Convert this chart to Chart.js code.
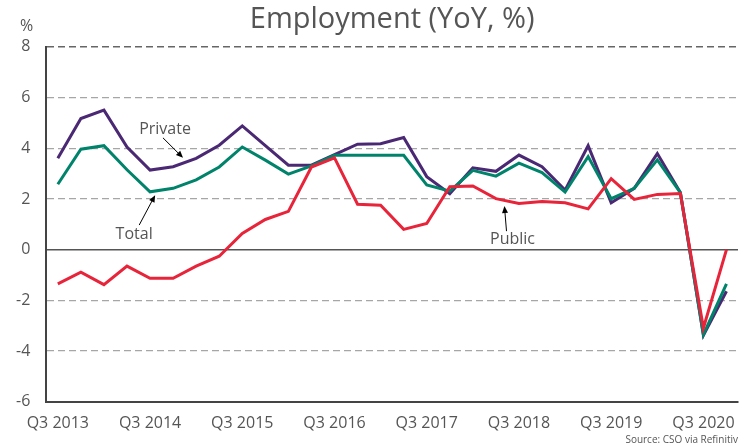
<!DOCTYPE html>
<html>
<head>
<meta charset="utf-8">
<script src="https://cdn.jsdelivr.net/npm/chart.js@4.4.1/dist/chart.umd.min.js"></script>
<style>
  html, body { margin: 0; padding: 0; background: #fff; }
  #wrap { width: 744px; height: 446px; }
</style>
</head>
<body>
<div id="wrap"><canvas id="chartEmployment"></canvas></div>
<script>
// quarters Q3 2013 .. Q4 2020
const quarters = [
    "Q3 2013", "Q4 2013", "Q1 2014", "Q2 2014", "Q3 2014", "Q4 2014", "Q1 2015", "Q2 2015",
    "Q3 2015", "Q4 2015", "Q1 2016", "Q2 2016", "Q3 2016", "Q4 2016", "Q1 2017", "Q2 2017",
    "Q3 2017", "Q4 2017", "Q1 2018", "Q2 2018", "Q3 2018", "Q4 2018", "Q1 2019", "Q2 2019",
    "Q3 2019", "Q4 2019", "Q1 2020", "Q2 2020", "Q3 2020", "Q4 2020"
];

const privateYoY = [
    3.60, 5.17, 5.50, 4.05, 3.14, 3.27, 3.60, 4.12, 4.88, 4.10,
    3.33, 3.33, 3.75, 4.16, 4.18, 4.42, 2.88, 2.21, 3.23, 3.09,
    3.73, 3.27, 2.35, 4.10, 1.85, 2.42, 3.79, 2.25, -3.38, -1.64
];

const totalYoY = [
    2.58, 3.96, 4.10, 3.15, 2.28, 2.42, 2.75, 3.26, 4.05, 3.53,
    2.98, 3.30, 3.72, 3.72, 3.72, 3.72, 2.55, 2.31, 3.13, 2.90,
    3.41, 3.04, 2.27, 3.67, 2.01, 2.42, 3.54, 2.25, -3.35, -1.35
];

const publicYoY = [
    -1.35, -0.89, -1.38, -0.65, -1.13, -1.13, -0.65, -0.26, 0.64, 1.19,
    1.51, 3.26, 3.62, 1.79, 1.75, 0.80, 1.03, 2.48, 2.51, 2.01,
    1.82, 1.90, 1.85, 1.61, 2.80, 1.98, 2.18, 2.21, -3.09, 0.00
];

const yTicks = [8, 6, 4, 2, 0, -2, -4, -6];

// callout labels, placed in data units (category index, value)
const callouts = [
    { text: "Private", at: [4.65, 4.76], from: [4.56, 4.41], to: [5.43, 3.62] },
    { text: "Total", at: [3.31, 0.61], from: [3.53, 0.97], to: [4.22, 2.15] },
    { text: "Public", at: [19.72, 0.41], from: [19.46, 0.73], to: [19.37, 1.72] }
];

const FONT = "'Open Sans', sans-serif";
const TEXT = "#555555";

const calloutPlugin = {
    id: "callouts",
    afterDatasetsDraw(chart) {
        const ctx = chart.ctx;
        const xs = chart.scales.x;
        const ys = chart.scales.y;
        ctx.save();
        ctx.font = "16px " + FONT;
        ctx.fillStyle = TEXT;
        ctx.textAlign = "center";
        ctx.textBaseline = "middle";
        callouts.forEach(function(c) {
            ctx.fillText(c.text, xs.getPixelForValue(c.at[0]), ys.getPixelForValue(c.at[1]));
            const x1 = xs.getPixelForValue(c.from[0]), y1 = ys.getPixelForValue(c.from[1]);
            const x2 = xs.getPixelForValue(c.to[0]), y2 = ys.getPixelForValue(c.to[1]);
            const ang = Math.atan2(y2 - y1, x2 - x1);
            ctx.strokeStyle = "#000";
            ctx.fillStyle = "#000";
            ctx.lineWidth = 1;
            ctx.beginPath();
            ctx.moveTo(x1, y1);
            ctx.lineTo(x2 - 4 * Math.cos(ang), y2 - 4 * Math.sin(ang));
            ctx.stroke();
            ctx.beginPath();
            ctx.moveTo(x2, y2);
            ctx.lineTo(x2 - 7 * Math.cos(ang) + 3 * Math.sin(ang), y2 - 7 * Math.sin(ang) - 3 * Math.cos(ang));
            ctx.lineTo(x2 - 7 * Math.cos(ang) - 3 * Math.sin(ang), y2 - 7 * Math.sin(ang) + 3 * Math.cos(ang));
            ctx.closePath();
            ctx.fill();
            ctx.fillStyle = TEXT;
        });
        // unit label above the y axis
        ctx.font = "16px " + FONT;
        ctx.textAlign = "right";
        ctx.fillText("%", ys.right - 13, ys.getPixelForValue(8.8));
        ctx.restore();
    }
};

document.addEventListener("DOMContentLoaded", function() {
    function makeLine(label, values, color) {
        return {
            label: label,
            data: values,
            borderColor: color,
            backgroundColor: color,
            borderWidth: 3,
            pointRadius: 0,
            tension: 0,
            fill: false
        };
    }

    new Chart(document.getElementById("chartEmployment"), {
        type: "line",
        data: {
            labels: quarters,
            datasets: [
                makeLine("Public", publicYoY, "#e8243a"),
                makeLine("Total", totalYoY, "#00836b"),
                makeLine("Private", privateYoY, "#4b2873")
            ]
        },
        options: {
            responsive: true,
            maintainAspectRatio: false,
            animation: false,
            layout: { padding: { left: 0, right: 6, top: 2, bottom: 0 } },
            plugins: {
                legend: { display: false },
                tooltip: { enabled: false },
                title: {
                    display: true,
                    text: "Employment (YoY, %)",
                    fullSize: false,
                    color: TEXT,
                    font: { family: FONT, size: 29, weight: "normal" },
                    padding: { top: 0, bottom: 10 }
                },
                subtitle: {
                    display: true,
                    position: "bottom",
                    align: "end",
                    text: "Source: CSO via Refinitiv",
                    color: TEXT,
                    font: { family: FONT, size: 10 },
                    padding: { top: -11, bottom: 0 }
                }
            },
            scales: {
                x: {
                    offset: true,
                    grid: {
                        offset: true,
                        drawTicks: false,
                        color: function(c) { return c.index === quarters.length ? "#555" : "transparent"; },
                        lineWidth: 1.5
                    },
                    border: { display: true, color: "#444", width: 2 },
                    ticks: {
                        autoSkip: false,
                        maxRotation: 0,
                        padding: 12,
                        color: TEXT,
                        font: { family: FONT, size: 16 },
                        callback: function(v, i) { return i % 4 === 0 ? quarters[i] : ""; }
                    }
                },
                y: {
                    min: -6,
                    max: 8,
                    afterBuildTicks: function(axis) {
                        axis.ticks = yTicks.map(function(v) { return { value: v }; });
                    },
                    grid: {
                        drawTicks: false,
                        color: function(c) {
                            if (c.tick && c.tick.value === 0) return "#555";
                            if (c.tick && c.tick.value === 8) return "#666";
                            return "#a6a6a6";
                        },
                        lineWidth: function(c) { return c.tick && (c.tick.value === 0 || c.tick.value === 8) ? 1.5 : 1.2; }
                    },
                    border: {
                        display: true,
                        color: "#444",
                        width: 2,
                        dash: function(c) { return c.tick && c.tick.value === 0 ? [] : [7, 4]; }
                    },
                    ticks: {
                        padding: 16,
                        color: TEXT,
                        font: { family: FONT, size: 16 }
                    }
                }
            }
        },
        plugins: [calloutPlugin]
    });
});
</script>
</body>
</html>
